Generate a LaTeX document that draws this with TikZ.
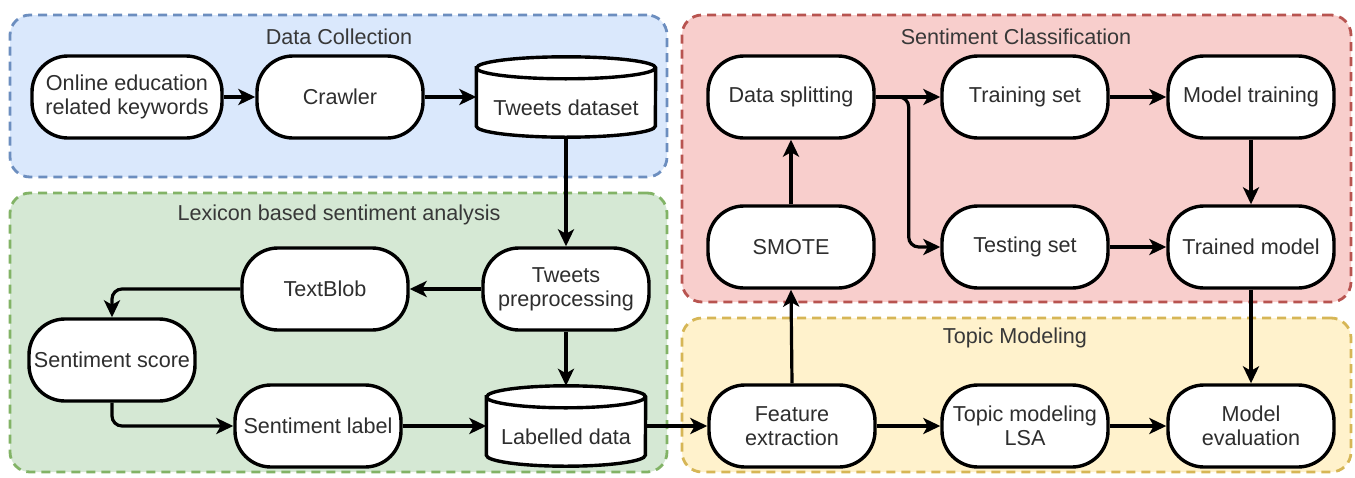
\documentclass[tikz,border=0pt]{standalone}
\usepackage{fontspec}
\setmainfont{Liberation Sans}
\usetikzlibrary{arrows.meta,calc}
\definecolor{bluefill}{HTML}{DAE8FC}\definecolor{blueline}{HTML}{6C8EBF}
\definecolor{greenfill}{HTML}{D5E8D4}\definecolor{greenline}{HTML}{82B366}
\definecolor{redfill}{HTML}{F8CECC}\definecolor{redline}{HTML}{B85450}
\definecolor{yellowfill}{HTML}{FFF2CC}\definecolor{yellowline}{HTML}{D6B656}
\newcommand{\cylshape}[2]{%
  \draw[cylline] let \p1=(#1.north west), \p2=(#1.south east) in
    (\x1,\y1-11pt) -- (\x1,\y2+11pt) arc[start angle=180,end angle=360,x radius=#2pt,y radius=11pt]
    -- (\x2,\y1-11pt) arc[start angle=0,end angle=180,x radius=#2pt,y radius=11pt] -- cycle
    (\x1,\y1-11pt) arc[start angle=180,end angle=360,x radius=#2pt,y radius=11pt];
}
\tikzset{
  x=1pt,y=1pt,
  nfont/.style={font=\fontsize{21.6}{24}\selectfont},
  box/.style={nfont, draw=black, fill=white, line width=3.4pt, rounded corners=36pt,
    minimum width=166pt, minimum height=82pt, align=center, inner sep=0pt, text=black!82},
  cylbody/.style={minimum height=80pt, inner sep=0pt},
  cyltext/.style={nfont, inner sep=0pt, text=black!82},
  cylline/.style={draw=black, fill=white, line width=3.4pt},
  group/.style={dashed, dash pattern=on 9pt off 6pt, line width=2.8pt, rounded corners=20pt, inner sep=0pt},
  gtitle/.style={nfont, text=black!78, inner sep=0pt},
  arr/.style={line width=3.2pt, -{Stealth[length=17pt,width=16pt,inset=4.5pt]}, rounded corners=10pt}
}
\begin{document}
\begin{tikzpicture}
\useasboundingbox (0,0) rectangle (1355,-477);
% groups
\node[group, draw=blueline, fill=bluefill, minimum width=657pt, minimum height=162pt] (gdc) at (338.5,-96) {};
\node[group, draw=greenline, fill=greenfill, minimum width=657pt, minimum height=279pt] (glx) at (338.5,-332.5) {};
\node[group, draw=redline, fill=redfill, minimum width=669pt, minimum height=287pt] (gsc) at (1016.5,-158.5) {};
\node[group, draw=yellowline, fill=yellowfill, minimum width=669pt, minimum height=154pt] (gtm) at (1016.5,-395) {};
\node[gtitle] (tdc) at (339,-37) {Data Collection};
\node[gtitle] (tlx) at (339,-215) {Lexicon based sentiment analysis};
\node[gtitle] (tsc) at (1016,-37) {Sentiment Classification};
\node[gtitle] (ttm) at (1015,-338) {Topic Modeling};
% nodes
\node[box, minimum width=190pt] (kw) at (127,-97) {Online education\\related keywords};
\node[box] (crawler) at (340,-97) {Crawler};
\node[cylbody, minimum width=179pt] (td) at (566,-97) {};
\cylshape{td}{89.5}
\node[cyltext] (tdt) at (566,-108) {Tweets dataset};
\node[box] (tp) at (566,-289) {Tweets\\preprocessing};
\node[box] (tb) at (325,-289) {TextBlob};
\node[box] (score) at (112,-360) {Sentiment score};
\node[box] (lab) at (318,-426) {Sentiment label};
\node[cylbody, minimum width=159pt] (ld) at (566,-426) {};
\cylshape{ld}{79.5}
\node[cyltext] (ldt) at (566,-437) {Labelled data};
\node[box] (fe) at (792,-426) {Feature\\extraction};
\node[box] (lsa) at (1025,-426) {Topic modeling\\LSA};
\node[box] (ev) at (1251,-426) {Model\\evaluation};
\node[box] (split) at (791,-97) {Data splitting};
\node[box] (train) at (1025,-97) {Training set};
\node[box] (mtrain) at (1251,-97) {Model training};
\node[box] (smote) at (791,-247) {SMOTE};
\node[box] (test) at (1025,-247) {Testing set};
\node[box] (trained) at (1251,-247) {Trained model};
% connectors
\draw[arr] (kw) -- (crawler);
\draw[arr] (crawler) -- (td.west);
\draw[arr] (td.south) -- (tp.north);
\draw[arr] (tp) -- (tb);
\draw[arr] (tb.west) -| (score.north);
\draw[arr] (score.south) |- (lab.west);
\draw[arr] (lab) -- (ld.west);
\draw[arr] (tp.south) -- (ld.north);
\draw[arr] (ld.east) -- (fe.west);
\draw[arr] (fe) -- (lsa);
\draw[arr] (lsa) -- (ev);
\draw[arr] (fe.north) -- (smote.south);
\draw[arr] (smote.north) -- (split.south);
\draw[arr] (split) -- (train);
\draw[arr] (split.east) -- ++(33,0) |- (test.west);
\draw[arr] (train) -- (mtrain);
\draw[arr] (mtrain.south) -- (trained.north);
\draw[arr] (test) -- (trained);
\draw[arr] (trained.south) -- (ev.north);
\end{tikzpicture}
\end{document}
